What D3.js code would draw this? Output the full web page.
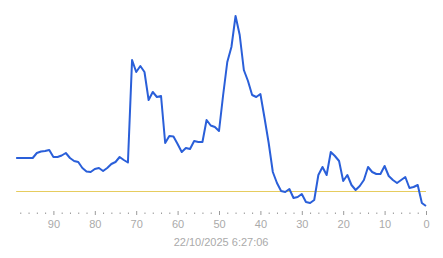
<!DOCTYPE html>
<html>
<head>
<meta charset="utf-8">
<script src="https://cdn.jsdelivr.net/npm/d3@7"></script>
<style>
  html, body { margin: 0; padding: 0; background: #fff; }
  svg { display: block; }
  .axis text { font-family: "Liberation Sans", Arial, sans-serif; font-size: 11px; fill: #aaaaaa; }
  .axis line { stroke: #9a9a9a; }
</style>
</head>
<body>
<div id="chart"></div>
<script>
// Samples, oldest (99) to newest (0)
const ages = d3.range(99, -1, -1);
const levels = [
  62, 62, 62, 62, 62, 67, 68.5, 69, 70, 63,
  63, 64.5, 67, 62, 59, 58, 52, 48.5, 48, 51,
  52, 49, 52, 56, 58, 63, 60, 57.5, 160, 148,
  154, 148, 120, 128, 123, 124, 77, 84, 83.5, 76,
  68, 72, 71, 79, 78, 78, 100, 94.5, 93, 89,
  125, 158, 173, 204, 185, 150, 139, 125, 123, 126,
  102, 77, 48, 37, 29, 28, 31, 22, 23, 26,
  18, 17, 20, 45, 53, 45, 68, 64, 59, 39,
  45, 35, 30, 34, 40, 53, 48, 46, 46, 54,
  44, 40, 37, 40, 43, 32, 33, 35, 17, 14
];
const threshold = 28;
const majorTicks = [90, 80, 70, 60, 50, 40, 30, 20, 10, 0];
const minorTicks = d3.range(98, 0, -2).filter(d => d % 10 !== 0);
const caption = '22/10/2025 6:27:06';

const W = 443, H = 258;
const x = d3.scaleLinear().domain([100, 0]).range([12, 426]);
const y = d3.scaleLinear().domain([0, 200]).range([220, 20]);

const svg = d3.select('#chart').append('svg')
  .attr('width', W).attr('height', H);

// threshold line
svg.append('line')
  .attr('x1', x(99)).attr('x2', x(0))
  .attr('y1', y(threshold) - 0.5).attr('y2', y(threshold) - 0.5)
  .attr('stroke', '#e6cc5e').attr('stroke-width', 1.2);

// series
const line = d3.line()
  .x((d, i) => x(ages[i]))
  .y(d => y(d));

svg.append('path')
  .datum(levels)
  .attr('d', line)
  .attr('fill', 'none')
  .attr('stroke', '#2a5fd9')
  .attr('stroke-width', 2)
  .attr('stroke-linejoin', 'round');

// axis: major ticks with labels, dots for minor ticks
const axisY = 211;
const gx = svg.append('g')
  .attr('class', 'axis')
  .attr('transform', `translate(0,${axisY})`)
  .call(d3.axisBottom(x).tickValues(majorTicks).tickSize(4).tickPadding(5).tickSizeOuter(0));
gx.select('.domain').remove();

const gm = svg.append('g')
  .attr('class', 'axis')
  .attr('transform', `translate(0,${axisY + 1.5})`)
  .call(d3.axisBottom(x).tickValues(minorTicks).tickSize(1.5).tickFormat(''));
gm.select('.domain').remove();

svg.append('text')
  .attr('x', (x(99) + x(0)) / 2)
  .attr('y', 245.5)
  .attr('text-anchor', 'middle')
  .attr('font-family', '"Liberation Sans", Arial, sans-serif')
  .attr('font-size', '11px')
  .attr('fill', '#aaaaaa')
  .text(caption);
</script>
</body>
</html>
